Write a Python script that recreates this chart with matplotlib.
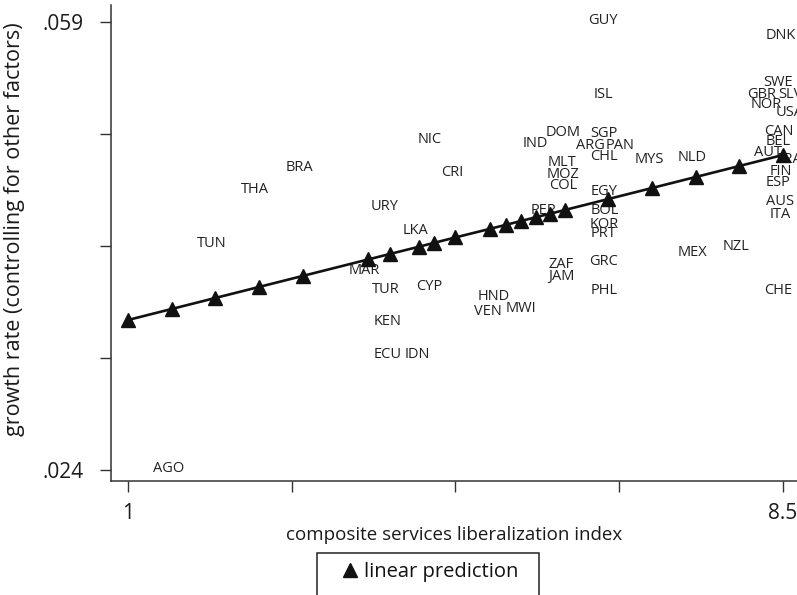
import numpy as np
import matplotlib
matplotlib.use("Agg")
import matplotlib.pyplot as plt
from matplotlib.patches import Rectangle

plt.rcParams['font.family'] = ['Open Sans', 'DejaVu Sans']

# country codes with liberalization index (x) and growth rate (y)
countries = ['AGO', 'TUN', 'THA', 'BRA', 'URY', 'MAR', 'TUR', 'KEN', 'LKA', 'NIC',
             'CYP', 'CRI', 'ECU', 'IDN', 'HND', 'VEN', 'MWI', 'IND', 'DOM', 'MLT',
             'MOZ', 'COL', 'PER', 'ZAF', 'JAM', 'SGP', 'ARG', 'PAN', 'CHL', 'MYS',
             'NLD', 'EGY', 'BOL', 'KOR', 'PRT', 'GRC', 'PHL', 'MEX', 'NZL', 'CHE',
             'GUY', 'ISL', 'DNK', 'SWE', 'GBR', 'SLV', 'NOR', 'USA', 'CAN', 'BEL',
             'AUT', 'FRA', 'FIN', 'ESP', 'AUS', 'ITA']
lib_index = [1.46, 1.96, 2.45, 2.96, 3.94, 3.71, 3.95, 3.97, 4.29, 4.46,
             4.45, 4.71, 3.97, 4.31, 5.19, 5.12, 5.50, 5.66, 5.98, 5.97,
             5.98, 5.98, 5.76, 5.96, 5.96, 6.45, 6.30, 6.63, 6.45, 6.97,
             7.46, 6.45, 6.46, 6.45, 6.44, 6.45, 6.45, 7.46, 7.96, 8.44,
             6.44, 6.45, 8.47, 8.44, 8.26, 8.59, 8.31, 8.58, 8.45, 8.44,
             8.33, 8.58, 8.47, 8.44, 8.47, 8.47]
growth = [.02423, .04176, .04603, .04770, .04463, .03970, .03822, .03572, .04280, .04991,
          .03845, .04736, .03314, .03314, .03767, .03650, .03666, .04955, .05041, .04810,
          .04713, .04627, .04439, .04017, .03923, .05037, .04943, .04943, .04861, .04834,
          .04853, .04580, .04437, .04327, .04252, .04035, .03814, .04107, .04158, .03814,
          .05923, .05338, .05806, .05439, .05341, .05341, .05267, .05201, .05056, .04974,
          .04892, .04834, .04740, .04658, .04502, .04404]

# fitted values of the linear prediction
pred_x = [1.0, 1.5, 2.0, 2.5, 3.0, 3.75, 4.0, 4.33, 4.5, 4.75, 5.15,
          5.33, 5.5, 5.67, 5.83, 6.0, 6.5, 7.0, 7.5, 8.0, 8.5]
pred_y = [.03572, .03658, .03744, .03830, .03916, .04045, .04088, .04144, .04174, .04217, .04285,
          .04316, .04345, .04375, .04402, .04431, .04517, .04603, .04689, .04775, .04861]

x_ticks = [1, 2.875, 4.75, 6.625, 8.5]
x_ticklabels = ['1', '', '', '', '8.5']
y_ticks = [.024, .03275, .0415, .05025, .059]
y_ticklabels = ['.024', '', '', '', '.059']

fig = plt.figure(figsize=(7.97, 5.95), dpi=100)
ax = fig.add_axes([111 / 797, 114 / 595, 686 / 797, 476 / 595])

for name, x, y in zip(countries, lib_index, growth):
    ax.text(x, y - .00008, name, ha='center', va='center', fontsize=10.5, color='#222222')

ax.plot(pred_x, pred_y, color='#111111', lw=1.9, zorder=3)
pts, = ax.plot(pred_x, pred_y, ls='none', marker='^', ms=9.5, color='#111111',
               zorder=4, label='linear prediction')

ax.set_xlim(0.805, 8.661)
ax.set_ylim(.02314, .06033)
ax.set_xticks(x_ticks)
ax.set_xticklabels(x_ticklabels)
ax.set_yticks(y_ticks)
ax.set_yticklabels(y_ticklabels)
ax.tick_params(axis='both', direction='out', length=8, width=1, color='#333333',
               labelsize=15, labelcolor='#1a1a1a')
ax.tick_params(axis='x', pad=8)
ax.tick_params(axis='y', pad=12)

for side in ['top', 'right']:
    ax.spines[side].set_visible(False)
for side in ['left', 'bottom']:
    ax.spines[side].set_color('#333333')
    ax.spines[side].set_linewidth(1.1)

ax.set_xlabel('composite services liberalization index', fontsize=13.5,
              color='#1a1a1a', labelpad=1)
ax.set_ylabel('growth rate (controlling for other factors)', fontsize=15.5,
              color='#1a1a1a')
ax.yaxis.set_label_coords(-0.1254, 0.53)

# legend box below the plot
fig.patches.append(Rectangle((317 / 797, -0.05), 222 / 797, 0.05 + 42 / 595,
                             transform=fig.transFigure, fill=False,
                             edgecolor='#222222', lw=1.1))
fig.legend(handles=[pts], loc='center', bbox_to_anchor=(430 / 797, 23 / 595),
           frameon=False, fontsize=14.5, handlelength=0.8, handletextpad=0.3,
           labelcolor='#111111')

fig.savefig('out.png', dpi=100)
